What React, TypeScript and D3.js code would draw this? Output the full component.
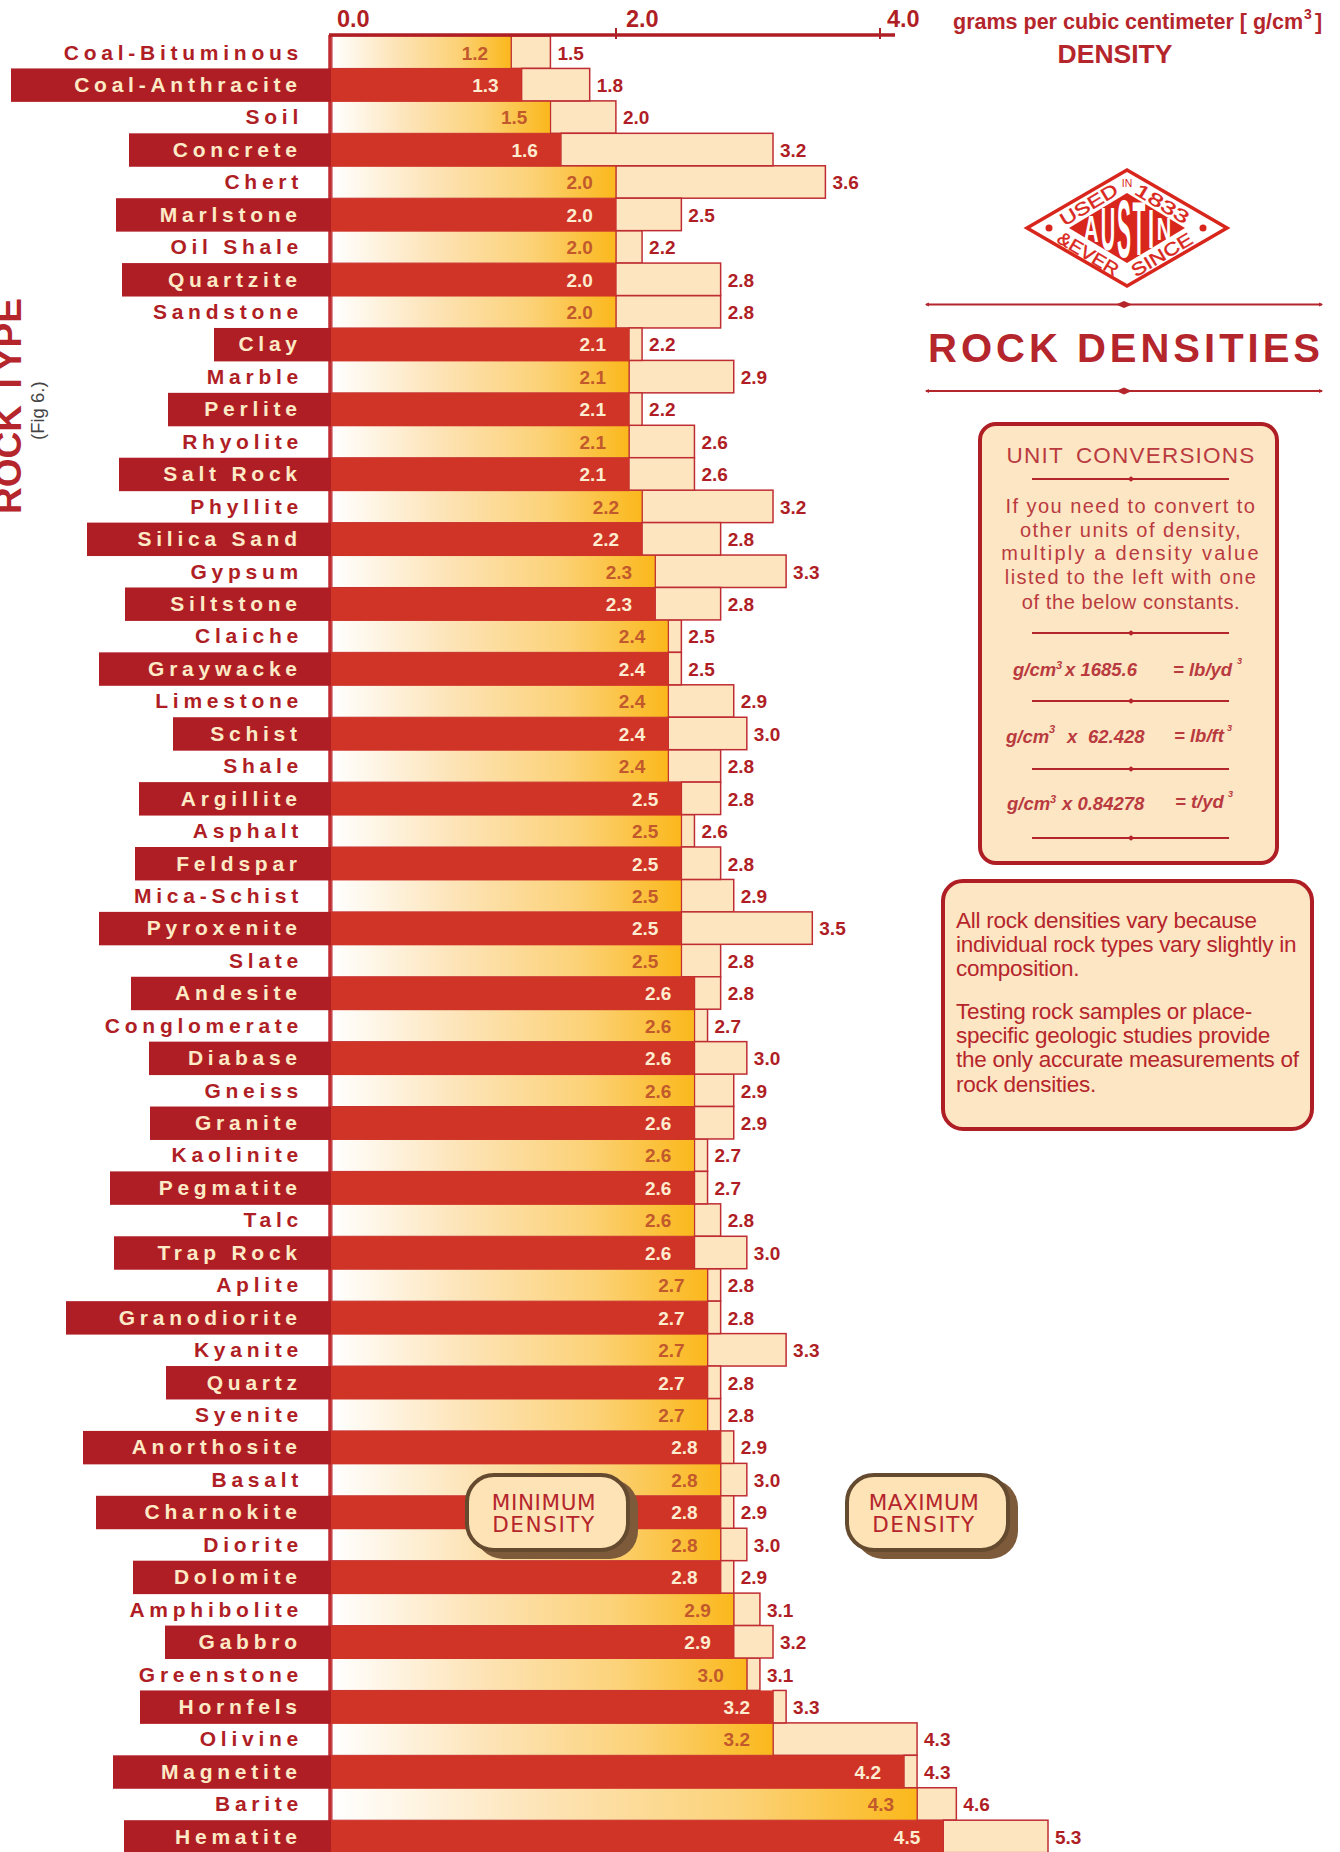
import React from 'react';
import * as d3 from 'd3';

const rockNames = [
  'Coal-Bituminous', 'Coal-Anthracite', 'Soil', 'Concrete', 'Chert', 'Marlstone', 'Oil Shale', 'Quartzite',
  'Sandstone', 'Clay', 'Marble', 'Perlite', 'Rhyolite', 'Salt Rock', 'Phyllite', 'Silica Sand', 'Gypsum',
  'Siltstone', 'Claiche', 'Graywacke', 'Limestone', 'Schist', 'Shale', 'Argillite', 'Asphalt', 'Feldspar',
  'Mica-Schist', 'Pyroxenite', 'Slate', 'Andesite', 'Conglomerate', 'Diabase', 'Gneiss', 'Granite', 'Kaolinite',
  'Pegmatite', 'Talc', 'Trap Rock', 'Aplite', 'Granodiorite', 'Kyanite', 'Quartz', 'Syenite', 'Anorthosite',
  'Basalt', 'Charnokite', 'Diorite', 'Dolomite', 'Amphibolite', 'Gabbro', 'Greenstone', 'Hornfels', 'Olivine',
  'Magnetite', 'Barite', 'Hematite',
];
// the bars for 1.3 and 1.6 stop a little short of the printed value
const minDensity = [
  1.2, 1.28, 1.5, 1.58, 2.0, 2.0, 2.0, 2.0, 2.0, 2.1, 2.1, 2.1, 2.1, 2.1, 2.2, 2.2, 2.3, 2.3, 2.4, 2.4, 2.4, 2.4, 2.4,
  2.5, 2.5, 2.5, 2.5, 2.5, 2.5, 2.6, 2.6, 2.6, 2.6, 2.6, 2.6, 2.6, 2.6, 2.6, 2.7, 2.7, 2.7, 2.7, 2.7, 2.8, 2.8, 2.8,
  2.8, 2.8, 2.9, 2.9, 3.0, 3.2, 3.2, 4.2, 4.3, 4.5,
];
const maxDensity = [
  1.5, 1.8, 2.0, 3.2, 3.6, 2.5, 2.2, 2.8, 2.8, 2.2, 2.9, 2.2, 2.6, 2.6, 3.2, 2.8, 3.3, 2.8, 2.5, 2.5, 2.9, 3.0, 2.8,
  2.8, 2.6, 2.8, 2.9, 3.5, 2.8, 2.8, 2.7, 3.0, 2.9, 2.9, 2.7, 2.7, 2.8, 3.0, 2.8, 2.8, 3.3, 2.8, 2.8, 2.9, 3.0, 2.9,
  3.0, 2.9, 3.1, 3.2, 3.1, 3.3, 4.3, 4.3, 4.6, 5.3,
];
const axisTicks = [0, 2, 4];

// left edge of the dark label tab on the even rows (layout, not data)
const tabLeft: Record<string, number> = {
  'Coal-Anthracite': 11, Concrete: 129, Marlstone: 116, Quartzite: 122, Clay: 214, Perlite: 168, 'Salt Rock': 119,
  'Silica Sand': 87, Siltstone: 125, Graywacke: 99, Schist: 173, Argillite: 139, Feldspar: 135, Pyroxenite: 99,
  Andesite: 131, Diabase: 149, Granite: 150, Pegmatite: 110, 'Trap Rock': 114, Granodiorite: 66, Quartz: 166,
  Anorthosite: 83, Charnokite: 96, Dolomite: 133, Gabbro: 165, Hornfels: 140, Magnetite: 113, Hematite: 124,
};

const noteLines = [
  'All rock densities vary because',
  'individual rock types vary slightly in',
  'composition.',
  'Testing rock samples or place-',
  'specific geologic studies provide',
  'the only accurate measurements of',
  'rock densities.',
];
const noteBaselines = [928, 952, 976, 1019, 1043, 1067, 1092];
const unitLines = [
  'If you need to convert to',
  'other units of density,',
  'multiply a density value',
  'listed to the left with one',
  'of the below constants.',
];
const unitBaselines = [513, 537, 560, 584, 609];
const unitSpacing = [1.45, 1.45, 2.2, 1.4, 0.6];
const unitRules = [479, 633, 701, 769, 838];

const WIDTH = 1340;
const HEIGHT = 1852;
const BASE_X = 331;
const SANS = '"Liberation Sans", Arial, sans-serif';
const DARK = '#b01e25';
const RED = '#d03427';
const CREAM = '#fde5c0';
const EDGE = '#bf2d33';
const TEXT_RED = '#b5252c';

const x = d3.scaleLinear().domain([0, 5.3]).range([354, 1048]);
// the printed axis is not quite even and does not share the bars' zero
const axisX = d3.scaleLinear().domain(axisTicks).range([BASE_X, 616, 880]);
const y = d3.scaleBand<string>().domain(rockNames).range([36, 36 + 56 * 32.44]);

const Rule = ({ x1, x2, cy, mid, r = 8, h = 3.6, ends = true }: { x1: number; x2: number; cy: number; mid: number; r?: number; h?: number; ends?: boolean }) => (
  <g fill="#b5252c">
    <line x1={x1} x2={x2} y1={cy} y2={cy} stroke="#b5252c" strokeWidth={2} />
    <path d={`M${mid - r},${cy}L${mid},${cy - h}L${mid + r},${cy}L${mid},${cy + h}Z`} />
    {ends && <path d={`M${x1 - 1},${cy}l4,-2v4Z M${x2 + 1},${cy}l-4,-2v4Z`} />}
  </g>
);

const Sup = ({ x: sx, y: sy, size = 11 }: { x: number; y: number; size?: number }) => (
  <text x={sx} y={sy} fontSize={size}>3</text>
);

const Logo = () => {
  const cx = 1127;
  const cy = 228;
  const c = '#d9261c';
  const letters: [string, number, number, number][] = [
    ['A', -36, 27, 1.05], ['U', -19, 44, 1], ['S', -3, 58, 1.05], ['T', 12, 54, 1.05], ['I', 24, 40, 1.1], ['N', 37, 23, 1],
  ];
  const ring = { fontSize: 18, textAnchor: 'middle' as const, lengthAdjust: 'spacingAndGlyphs', stroke: c, strokeWidth: 0.4 };
  return (
    <g fontFamily={SANS} fill={c}>
      <path d={`M${cx - 100},${cy}L${cx},${cy - 58}L${cx + 100},${cy}L${cx},${cy + 58}Z`} fill="#fff" stroke={c} strokeWidth={3.5} />
      <path d={`M${cx - 58},${cy}L${cx},${cy - 35}L${cx + 58},${cy}L${cx},${cy + 35}Z`} />
      {letters.map(([l, dx, h, sx]) => (
        <text key={l} fontWeight="bold" fontSize={20} fill="#fff" textAnchor="middle"
          transform={`translate(${cx + dx},${cy + h / 2}) scale(${sx},${h / 14.3})`}>{l}</text>
      ))}
      <circle cx={cx - 78} cy={cy} r={3.5} />
      <circle cx={cx + 76} cy={cy} r={3.5} />
      <text {...ring} textLength={64} transform={`translate(${cx - 35},${cy - 18}) rotate(-31)`}>USED</text>
      <text fontSize={10.5} textAnchor="middle" x={cx} y={cy - 41}>IN</text>
      <text {...ring} textLength={60} transform={`translate(${cx + 32},${cy - 19}) rotate(31)`}>1833</text>
      <text {...ring} textLength={68} transform={`translate(${cx - 42},${cy + 31}) rotate(31)`}>&amp;EVER</text>
      <text {...ring} textLength={68} transform={`translate(${cx + 38},${cy + 32}) rotate(-31)`}>SINCE</text>
    </g>
  );
};

const LegendBox = ({ left, label, labelSpacing, center }: { left: number; label: string; labelSpacing: number; center: number }) => (
  <g>
    <rect x={left + 10} y={1479} width={163} height={80} rx={28} fill="#7d5a3a" />
    <rect x={left + 2} y={1475} width={161} height={75} rx={27} fill="#fde3b5" stroke="#644a2f" strokeWidth={4} />
    <g fontFamily='"DejaVu Sans", sans-serif' fontSize={21.5} fill={TEXT_RED} textAnchor="middle">
      <text x={center} y={1510} letterSpacing={labelSpacing}>{label}</text>
      <text x={center} y={1532} letterSpacing={1.6}>DENSITY</text>
    </g>
  </g>
);

const App = () => {
  const band = y.step();
  // red rows sit on top of the pale rows, their edges overlap by a pixel
  const order = rockNames.map((_, i) => i).sort((a, b) => (a % 2) - (b % 2));
  return (
    <svg width={WIDTH} height={HEIGHT} style={{ position: 'absolute', left: 0, top: 0, background: '#fff' }} fontFamily={SANS}>
      <defs>
        <linearGradient id="minFill" x1="0" x2="1" y1="0" y2="0">
          <stop offset="0" stopColor="#ffffff" />
          <stop offset="0.35" stopColor="#fde4b8" />
          <stop offset="0.7" stopColor="#fcd278" />
          <stop offset="1" stopColor="#fbb81c" />
        </linearGradient>
      </defs>

      <line x1={BASE_X - 1} x2={BASE_X - 1} y1={35} y2={HEIGHT} stroke={EDGE} strokeWidth={3.5} />

      {/* rows */}
      {order.map(i => {
        const name = rockNames[i];
        const top = y(name) as number;
        const dark = i % 2 === 1;
        const minX = x(minDensity[i]);
        const maxX = x(maxDensity[i]);
        return (
          <g key={name}>
            {dark && <rect x={tabLeft[name]} y={top} width={BASE_X - tabLeft[name]} height={band + 1} fill={DARK} />}
            <rect x={minX} y={top} width={maxX - minX} height={band} fill={CREAM} stroke={EDGE} strokeWidth={1.5} />
            {dark
              ? <rect x={BASE_X} y={top} width={minX - BASE_X} height={band + 1} fill={RED} />
              : <rect x={BASE_X + 1} y={top} width={minX - BASE_X - 1} height={band} fill="url(#minFill)" stroke={EDGE} strokeWidth={1} />}
            <text x={dark ? 301.75 : 303} y={top + 23.5} textAnchor="end" fontWeight="bold" fontSize={21} letterSpacing={4.75}
              fill={dark ? '#fdeac6' : DARK}>{name}</text>
            <text x={minX - 23} y={top + 23.5} textAnchor="end" fontWeight="bold" fontSize={19}
              fill={dark ? '#fdeccf' : '#c2592c'}>{minDensity[i].toFixed(1)}</text>
            <text x={maxX + 7} y={top + 23.5} fontWeight="bold" fontSize={19} fill={DARK}>{maxDensity[i].toFixed(1)}</text>
          </g>
        );
      })}

      {/* axis */}
      <line x1={329} x2={895} y1={35} y2={35} stroke={DARK} strokeWidth={3.5} />
      {axisTicks.map(t => {
        const tx = axisX(t);
        return (
          <g key={t}>
            {t > 0 && <line x1={tx} x2={tx} y1={28} y2={39} stroke={DARK} strokeWidth={2} />}
            <text x={tx + (t === 0 ? 6 : t === 2 ? 10 : 7)} y={27} fontWeight="bold" fontSize={23.5} fill={DARK}>{t.toFixed(1)}</text>
          </g>
        );
      })}

      {/* axis titles */}
      <g fill={TEXT_RED} fontWeight="bold">
        <text x={953} y={29} fontSize={21.5}>grams per cubic centimeter [ g/cm</text>
        <Sup x={1304} y={19} size={14} />
        <text x={1315} y={29} fontSize={21.5}>]</text>
        <text x={1115} y={63} fontSize={26.5} textAnchor="middle">DENSITY</text>
        <text transform="translate(21,514) rotate(-90)" fontSize={37}>ROCK TYPE</text>
      </g>
      <text transform="translate(44,440) rotate(-90)" fontSize={18.5} fill="#444">(Fig 6.)</text>

      <Logo />

      {/* title */}
      <Rule x1={926} x2={1322} cy={304.5} mid={1124} />
      <text x={928} y={362} fontSize={40} fontWeight="bold" letterSpacing={4} fill={TEXT_RED}>ROCK DENSITIES</text>
      <Rule x1={926} x2={1322} cy={391} mid={1124} />

      {/* unit conversions */}
      <rect x={980} y={424} width={297} height={439} rx={16} fill="#fde6c3" stroke={DARK} strokeWidth={4} />
      <g fill="#b93a3f" textAnchor="middle">
        <text x={1131} y={463} fontSize={22.5} letterSpacing={1.2} wordSpacing={5}>UNIT CONVERSIONS</text>
        {unitLines.map((l, i) => (
          <text key={l} x={1131} y={unitBaselines[i]} fontSize={20} letterSpacing={unitSpacing[i]}>{l}</text>
        ))}
      </g>
      {unitRules.map(r => <Rule key={r} x1={1032} x2={1229} cy={r} mid={1131} r={3.5} h={2.8} ends={false} />)}
      <g fill="#b93a3f" fontWeight="bold" fontStyle="italic" fontSize={18.5}>
        <text x={1013} y={676}>g/cm</text><Sup x={1056} y={669} size={11} />
        <text x={1065} y={676}>x 1685.6</text>
        <text x={1173} y={676}>= lb/yd</text><Sup x={1237} y={664} size={9} />
        <text x={1006} y={743}>g/cm</text><Sup x={1049} y={733} />
        <text x={1067} y={743}>x</text>
        <text x={1088} y={743}>62.428</text>
        <text x={1174} y={742}>= lb/ft</text><Sup x={1227} y={731} size={9} />
        <text x={1007} y={810}>g/cm</text><Sup x={1050} y={803} size={11} />
        <text x={1062} y={810}>x 0.84278</text>
        <text x={1175} y={808}>= t/yd</text><Sup x={1228} y={797} size={9} />
      </g>

      {/* note */}
      <rect x={943} y={881} width={369} height={248} rx={20} fill="#fde6c3" stroke={DARK} strokeWidth={4} />
      <g fill={TEXT_RED} fontSize={22.5} letterSpacing={-0.26}>
        {noteLines.map((l, i) => <text key={l} x={956} y={noteBaselines[i]}>{l}</text>)}
      </g>

      <LegendBox left={465} label="MINIMUM" labelSpacing={0.6} center={544} />
      <LegendBox left={845} label="MAXIMUM" labelSpacing={0.5} center={924} />
    </svg>
  );
};

export default App;
